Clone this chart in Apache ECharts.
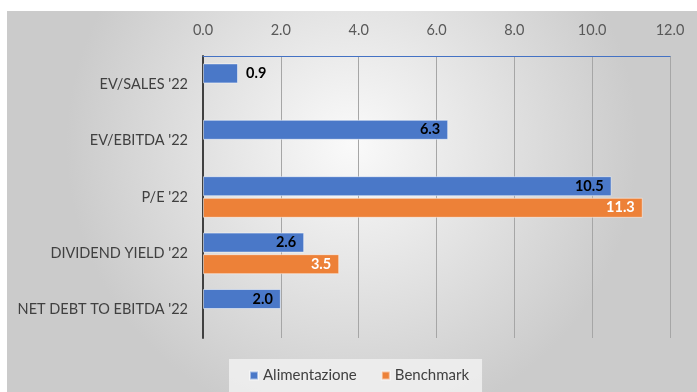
<!DOCTYPE html>
<html>
<head>
<meta charset="utf-8">
<script src="https://cdn.jsdelivr.net/npm/echarts@6/dist/echarts.min.js"></script>
<style>
    html, body { margin: 0; padding: 0; background: #fff; }
    #chart { width: 697px; height: 392px; }
</style>
</head>
<body>
<div id="chart"></div>
<script>
const categories = ["EV/SALES '22", "EV/EBITDA '22", "P/E '22", "DIVIDEND YIELD '22", "NET DEBT TO EBITDA '22"];
const alimentazione = [0.9, 6.3, 10.5, 2.6, 2.0];
const benchmark = [null, null, 11.3, 3.5, null];
const seriesNames = ["Alimentazione", "Benchmark"];

const FONT = "Lato";

const chart = echarts.init(document.getElementById("chart"));

// small bars can't hold the label inside, push it outside like excel does
const blueData = alimentazione.map(v => v < 1.5
    ? { value: v, label: { position: "right" } }
    : v);

const option = {
    animation: false,
    textStyle: { fontFamily: FONT },
    graphic: [{
        type: "rect",
        z: -10,
        shape: { x: 7, y: 11, width: 690, height: 381 },
        style: {
            fill: {
                type: "radial", x: 0.5, y: 0.35, r: 0.75,
                colorStops: [
                    { offset: 0, color: "#fafafa" },
                    { offset: 1, color: "#cbcbcb" }
                ]
            }
        }
    }],
    grid: { left: 203, right: 27, top: 56, bottom: 54 },
    legend: {
        data: seriesNames,
        bottom: 0,
        left: 229,
        icon: "rect",
        itemWidth: 8,
        itemHeight: 8,
        itemGap: 24,
        padding: [9, 13, 9, 20],
        backgroundColor: "rgba(238,238,238,0.9)",
        textStyle: { fontFamily: FONT, fontSize: 15, color: "#404040" }
    },
    xAxis: {
        type: "value",
        position: "top",
        min: 0,
        max: 12,
        interval: 2,
        axisLine: { show: true, lineStyle: { color: "#4472C4", width: 1 } },
        axisTick: { show: false },
        splitLine: { lineStyle: { color: "#a6a6a6", width: 1 } },
        axisLabel: {
            margin: 18,
            color: "#595959",
            fontSize: 14.5,
            fontFamily: FONT,
            formatter: v => v.toFixed(1)
        }
    },
    yAxis: {
        type: "category",
        data: categories,
        inverse: true,
        axisLine: { show: true, lineStyle: { color: "#404040", width: 2 } },
        axisTick: { show: false },
        axisLabel: { margin: 15, color: "#404040", fontSize: 14.5, fontFamily: FONT }
    },
    series: [
        {
            name: seriesNames[0],
            type: "bar",
            data: blueData,
            barWidth: 20,
            barGap: "8%",
            itemStyle: { color: "#4A78C8", borderColor: "rgba(255,255,255,0.5)", borderWidth: 1 },
            label: {
                show: true,
                position: "insideRight",
                distance: 8,
                color: "#000",
                fontWeight: "bold",
                fontSize: 14.5,
                fontFamily: FONT,
                formatter: p => p.value.toFixed(1)
            }
        },
        {
            name: seriesNames[1],
            type: "bar",
            data: benchmark,
            barWidth: 20,
            itemStyle: { color: "#ED8138", borderColor: "rgba(255,255,255,0.5)", borderWidth: 1 },
            label: {
                show: true,
                position: "insideRight",
                distance: 8,
                color: "#fff",
                fontWeight: "bold",
                fontSize: 14.5,
                fontFamily: FONT,
                formatter: p => p.value.toFixed(1)
            }
        }
    ]
};

chart.setOption(option);
</script>
</body>
</html>
